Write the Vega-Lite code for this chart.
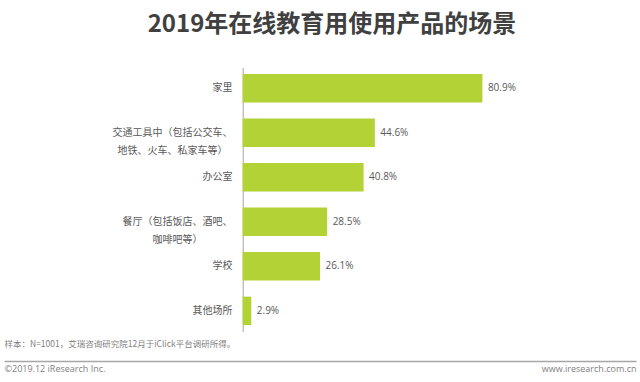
{
  "$schema": "https://vega.github.io/schema/vega-lite/v6.json",
  "autosize": {"type": "none"},
  "padding": {"left": 4, "top": 67.6, "right": 4, "bottom": 50.4},
  "width": 632,
  "height": 264,
  "background": "white",
  "title": {
    "text": "2019年在线教育用使用产品的场景",
    "font": "Noto Sans CJK SC",
    "fontSize": 24,
    "fontWeight": "bold",
    "color": "#404040",
    "anchor": "middle",
    "frame": "group",
    "dx": 12,
    "baseline": "alphabetic",
    "offset": 11.6
  },
  "data": {
    "values": [
      {"place": "家里", "value": 80.9},
      {"place": "交通工具中（包括公交车、|地铁、火车、私家车等）", "value": 44.6},
      {"place": "办公室", "value": 40.8},
      {"place": "餐厅（包括饭店、酒吧、|咖啡吧等）", "value": 28.5},
      {"place": "学校", "value": 26.1},
      {"place": "其他场所", "value": 2.9}
    ]
  },
  "transform": [
    {"calculate": "format(datum.value, '.1f') + '%'", "as": "label"}
  ],
  "encoding": {
    "y": {
      "field": "place",
      "type": "nominal",
      "sort": null,
      "scale": {"paddingInner": 0.36, "paddingOuter": 0.146},
      "axis": {
        "orient": "left",
        "offset": -238.7,
        "title": null,
        "ticks": false,
        "grid": false,
        "domainColor": "#a6a6a6",
        "domainWidth": 1,
        "labelFont": "Noto Sans CJK SC",
        "labelFontSize": 10,
        "labelColor": "#595959",
        "labelLimit": 0,
        "labelLineHeight": 18,
        "labelExpr": "split(datum.label, '|')",
        "labelAlign": {
          "condition": {"test": "indexof(datum.value, '|') >= 0", "value": "center"},
          "value": "right"
        },
        "labelPadding": {
          "condition": [
            {"test": "indexof(datum.value, '交通') >= 0", "value": 70.7},
            {"test": "indexof(datum.value, '餐厅') >= 0", "value": 65.7}
          ],
          "value": 10.7
        }
      }
    },
    "x": {
      "field": "value",
      "type": "quantitative",
      "scale": {"domain": [-80.56, 132.74], "nice": false, "zero": false},
      "axis": {
        "orient": "bottom",
        "offset": 29.4,
        "grid": false,
        "ticks": false,
        "domainColor": "#a6a6a6",
        "domainWidth": 1.5,
        "values": [-80.56, 132.74],
        "labelExpr": "datum.value < 0 ? '©2019.12 iResearch Inc.' : 'www.iresearch.com.cn'",
        "labelFlush": true,
        "labelOverlap": false,
        "labelFont": "Open Sans",
        "labelFontSize": 9,
        "labelColor": "#7f7f7f",
        "labelPadding": 3,
        "title": "样本：N=1001，艾瑞咨询研究院12月于iClick平台调研所得。",
        "titleX": 0,
        "titleY": -17.7,
        "titleAlign": "left",
        "titleAnchor": "start",
        "titleBaseline": "middle",
        "titleFont": "Noto Sans CJK SC",
        "titleFontSize": 8.5,
        "titleFontWeight": "normal",
        "titleColor": "#7f7f7f"
      }
    }
  },
  "layer": [
    {
      "mark": {"type": "bar", "color": "#b2d235"},
      "encoding": {"x2": {"datum": 0}}
    },
    {
      "mark": {"type": "text", "align": "left", "baseline": "middle", "dx": 5.5, "font": "Open Sans", "fontSize": 10, "color": "#595959"},
      "encoding": {"text": {"field": "label"}}
    }
  ],
  "config": {"view": {"stroke": null}}
}
